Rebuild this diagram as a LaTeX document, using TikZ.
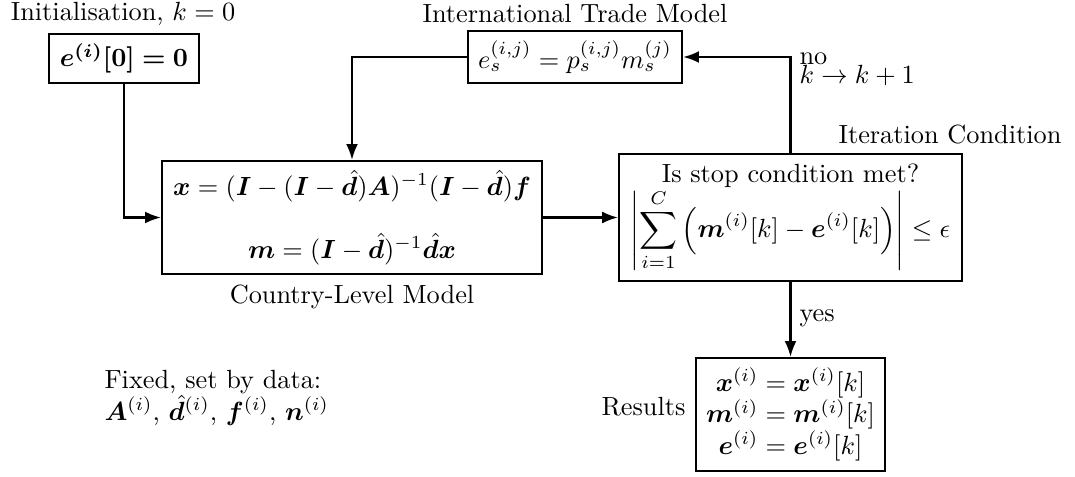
\documentclass[tikz,border=0pt]{standalone}
\usepackage{amsmath,amssymb,bm}
\usetikzlibrary{arrows.meta}
\begin{document}
\begin{tikzpicture}[x=0.3802pt,y=-0.3802pt,
  box/.style={draw,line width=0.8pt,inner sep=2pt,align=center},
  lbl/.style={inner sep=0pt,align=center},
  conn/.style={line width=0.8pt,-{Latex[length=6pt,width=4.5pt]}}]
\useasboundingbox (0,0) rectangle (1075,476);
\node[lbl] (initlbl) at (123,14) {Initialisation, $k=0$};
\node[box,minimum width=57pt,minimum height=18.6pt] (init) at (124,58.5) {$\bm{e^{(i)}[0]=0}$};
\node[lbl] (tradelbl) at (575,14) {International Trade Model};
\node[box,minimum width=81.4pt,minimum height=19.8pt] (trade) at (575,57) {$e_s^{(i,j)}=p_s^{(i,j)}m_s^{(j)}$};
\node[box,minimum width=144.5pt,minimum height=43pt] (country) at (352,217.5)
  {$\bm x=(\bm I-(\bm I-\hat{\bm d})\bm A)^{-1}(\bm I-\hat{\bm d})\bm f$\\[11pt]
   $\bm m=(\bm I-\hat{\bm d})^{-1}\hat{\bm d}\bm x$};
\node[lbl] (countrylbl) at (352,297) {Country-Level Model};
\node[box,minimum width=130.4pt,minimum height=48.3pt] (iter) at (790.5,217.5)
  {Is stop condition met?\\
   $\displaystyle\left|\sum_{i=1}^{C}\left(\bm m^{(i)}[k]-\bm e^{(i)}[k]\right)\right|\le\epsilon$};
\node[lbl] (iterlbl) at (950,135) {Iteration Condition};
\node[box,minimum width=71.9pt,minimum height=43pt] (results) at (790.5,414.5)
  {$\bm x^{(i)}=\bm x^{(i)}[k]$\\ $\bm m^{(i)}=\bm m^{(i)}[k]$\\ $\bm e^{(i)}=\bm e^{(i)}[k]$};
\node[lbl,anchor=east] (resultslbl) at (686,407) {Results};
\node[lbl,align=left,anchor=north west] (fixed) at (104,370)
  {Fixed, set by data:\\ $\bm A^{(i)}$, $\hat{\bm d}^{(i)}$, $\bm f^{(i)}$, $\bm n^{(i)}$};
\draw[conn] (init.south) |- (country.west);
\draw[conn] (trade.west) -| (country.north);
\draw[conn] (country.east) -- (iter.west);
\draw[conn] (iter.north) |- (trade.east);
\node[lbl,align=left,anchor=west] (nolbl) at (799,69) {no\\[-5pt]$k\to k+1$};
\draw[conn] (iter.south) -- (results.north);
\node[lbl,anchor=west] (yeslbl) at (799,318) {yes};
\end{tikzpicture}
\end{document}
